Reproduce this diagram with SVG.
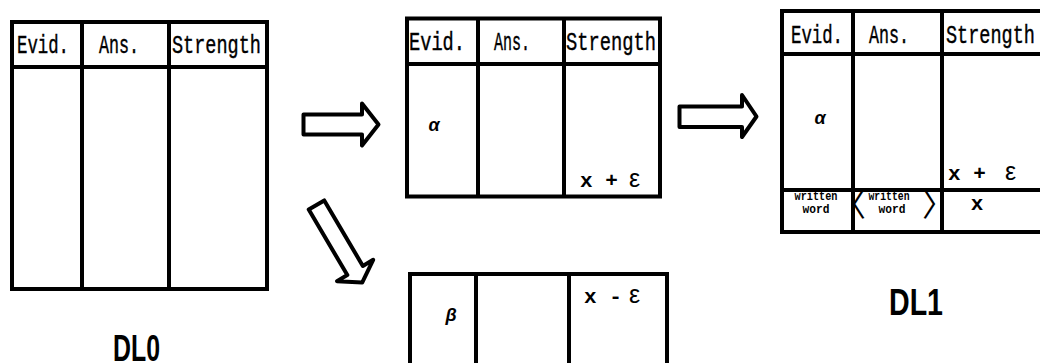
<svg xmlns="http://www.w3.org/2000/svg" width="1040" height="363" viewBox="0 0 1040 363">
<style>
.tb{fill:none;stroke:#000;stroke-width:4}
.ln{stroke:#000;stroke-width:4}
.hd{font-family:"Liberation Mono",monospace;font-size:26px;fill:#000;stroke:#000;stroke-width:0.4}
.val{font-family:"Liberation Mono",monospace;font-size:21px;font-weight:bold;fill:#000}
.eps{font-family:"Liberation Sans",sans-serif;font-size:25px;fill:#000}
.gr{font-family:"Liberation Sans",sans-serif;font-size:18px;font-style:italic;font-weight:bold;fill:#000;text-anchor:middle}
.sm{font-family:"Liberation Mono",monospace;font-size:12px;font-weight:bold;fill:#000;text-anchor:middle}
.br{font-family:"Noto Sans CJK JP",sans-serif;font-size:32px;fill:#000;text-anchor:middle}
.lbl{font-family:"Liberation Sans",sans-serif;font-size:37px;font-weight:bold;fill:#000}
.arr{fill:#fff;stroke:#000;stroke-width:4;stroke-linejoin:round}
</style>
<g id="dl0">
<rect class="tb" x="12" y="22" width="255" height="267"/>
<line class="ln" x1="12" y1="67" x2="267" y2="67"/>
<line class="ln" x1="82" y1="22" x2="82" y2="289"/>
<line class="ln" x1="169" y1="22" x2="169" y2="289"/>
<text class="hd" x="17" y="53" textLength="52" lengthAdjust="spacingAndGlyphs">Evid.</text>
<text class="hd" x="99" y="53" textLength="40" lengthAdjust="spacingAndGlyphs">Ans.</text>
<text class="hd" x="172" y="53" textLength="89" lengthAdjust="spacingAndGlyphs">Strength</text>
<text class="lbl" x="113" y="361" textLength="47" lengthAdjust="spacingAndGlyphs">DL0</text>
</g>
<g id="alpha-table">
<rect class="tb" x="407" y="18.5" width="253" height="178"/>
<line class="ln" x1="407" y1="64" x2="660" y2="64"/>
<line class="ln" x1="478" y1="18.5" x2="478" y2="196.5"/>
<line class="ln" x1="564" y1="18.5" x2="564" y2="196.5"/>
<text class="hd" x="409" y="50" textLength="56" lengthAdjust="spacingAndGlyphs">Evid.</text>
<text class="hd" x="494" y="50" textLength="36" lengthAdjust="spacingAndGlyphs">Ans.</text>
<text class="hd" x="566" y="50" textLength="90" lengthAdjust="spacingAndGlyphs">Strength</text>
<text class="gr" x="434" y="131">α</text>
<text class="val" x="580" y="187">x +</text>
<text class="eps" x="629" y="187">ε</text>
</g>
<g id="beta-table">
<path class="tb" d="M410,366 V274 H667 V366"/>
<line class="ln" x1="476" y1="274" x2="476" y2="366"/>
<line class="ln" x1="569" y1="274" x2="569" y2="366"/>
<text class="gr" x="451" y="321">β</text>
<text class="val" x="584" y="303">x -</text>
<text class="eps" x="629" y="303">ε</text>
</g>
<g id="dl1">
<rect class="tb" x="782" y="11" width="262" height="221"/>
<line class="ln" x1="782" y1="54" x2="1044" y2="54"/>
<line class="ln" x1="782" y1="190" x2="1044" y2="190"/>
<line class="ln" x1="853" y1="11" x2="853" y2="232"/>
<line class="ln" x1="942" y1="11" x2="942" y2="232"/>
<text class="hd" x="791" y="43" textLength="52" lengthAdjust="spacingAndGlyphs">Evid.</text>
<text class="hd" x="869" y="43" textLength="40" lengthAdjust="spacingAndGlyphs">Ans.</text>
<text class="hd" x="946" y="43" textLength="89" lengthAdjust="spacingAndGlyphs">Strength</text>
<text class="gr" x="820" y="124">α</text>
<text class="val" x="948" y="180">x +</text>
<text class="eps" x="1005" y="180">ε</text>
<text class="sm" x="816" y="200" textLength="43" lengthAdjust="spacingAndGlyphs">written</text>
<text class="sm" x="816" y="213" textLength="27" lengthAdjust="spacingAndGlyphs">word</text>
<text class="br" x="850" y="216">〈</text>
<text class="sm" x="889" y="200" textLength="41" lengthAdjust="spacingAndGlyphs">written</text>
<text class="sm" x="892" y="213" textLength="27" lengthAdjust="spacingAndGlyphs">word</text>
<text class="br" x="938" y="216">〉</text>
<text class="val" x="977" y="210" text-anchor="middle">x</text>
<text class="lbl" x="889" y="315" textLength="54" lengthAdjust="spacingAndGlyphs">DL1</text>
</g>
<g id="connectors">
<path class="arr" d="M303.5,114.5 H362 V103.5 L378.5,124.5 L362,145.5 V134.5 H303.5 Z"/>
<path class="arr" d="M679.5,106.5 H742 V95 L756.5,116.5 L742,137 V127 H679.5 Z"/>
<path class="arr" transform="translate(316.5,205) rotate(59.5)" d="M0,-9 H76 V-21 L90,0 L76,21 V9 H0 Z"/>
</g>
</svg>
